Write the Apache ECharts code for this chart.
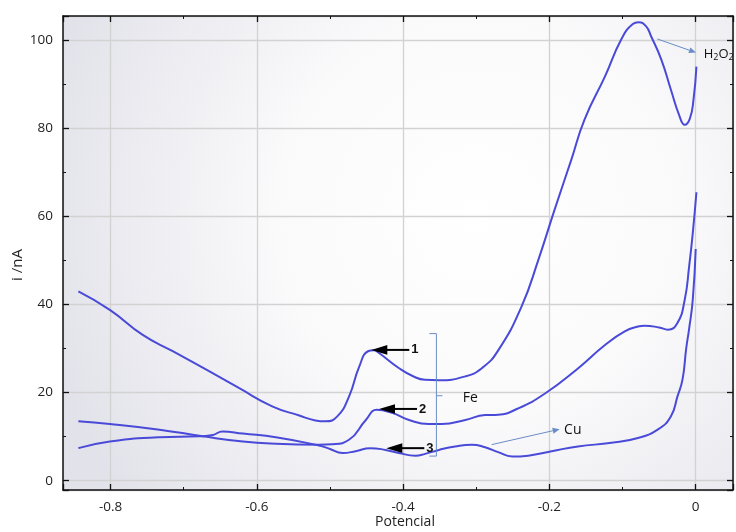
<!DOCTYPE html>
<html><head><meta charset="utf-8">
<script src="https://cdn.jsdelivr.net/npm/echarts@6/dist/echarts.min.js"></script>
<style>html,body{margin:0;padding:0;background:#fff}#c{width:736px;height:532px}</style>
</head><body><div id="c"></div>
<script>
// Curve 1 (top)
const pot1 = [-0.844,-0.801,-0.756,-0.715,-0.669,-0.624,-0.579,-0.542,-0.520,-0.506,-0.490,-0.474,-0.460,-0.448,-0.440,-0.433,-0.406,-0.385,-0.370,-0.351,-0.315,-0.292,-0.270,-0.238,-0.215,-0.193,-0.170,-0.152,-0.124,-0.102,-0.086,-0.078,-0.068,-0.061,-0.047,-0.034,-0.022,-0.015,-0.008,-0.003,0.001];
const cur1 = [43.0,38.8,33.1,29.4,25.2,21.0,16.9,14.8,13.7,13.5,14.6,19.1,25.9,29.4,29.6,29.0,25.6,23.6,22.9,22.8,23.7,25.6,29.6,39.6,50.2,61.5,72.9,82.0,91.8,100.1,103.7,104.1,103.2,100.9,95.6,88.8,82.7,80.8,82.2,86.5,94.0];
// Curve 2 (middle)
const pot2 = [-0.844,-0.801,-0.733,-0.674,-0.619,-0.574,-0.515,-0.497,-0.474,-0.451,-0.436,-0.415,-0.392,-0.365,-0.347,-0.315,-0.288,-0.270,-0.243,-0.206,-0.161,-0.124,-0.097,-0.079,-0.070,-0.050,-0.038,-0.025,-0.015,-0.009,-0.004,0.001];
const cur2 = [13.5,12.9,11.6,10.1,8.9,8.4,8.2,8.3,9.3,13.8,16.1,15.4,13.8,12.9,12.9,13.8,14.9,15.0,16.4,19.8,25.5,30.8,33.9,35.0,35.2,34.8,34.3,35.8,41.1,48.6,56.2,65.5];
// Curve 3 (bottom)
const pot3 = [-0.844,-0.801,-0.733,-0.678,-0.660,-0.647,-0.619,-0.574,-0.515,-0.500,-0.483,-0.465,-0.445,-0.424,-0.406,-0.383,-0.370,-0.351,-0.329,-0.306,-0.288,-0.270,-0.251,-0.229,-0.197,-0.161,-0.115,-0.079,-0.052,-0.034,-0.025,-0.018,-0.013,-0.009,-0.004,0.000];
const cur3 = [7.4,8.9,9.9,10.1,10.4,11.2,10.7,9.9,8.0,7.2,6.3,6.7,7.4,7.0,6.3,5.7,6.1,7.0,7.8,8.2,7.6,6.5,5.5,5.7,6.7,7.8,8.6,9.7,11.6,14.6,19.1,23.0,30.0,34.5,41.1,52.6];

// annotation anchors (data coords)
const peakArrows = [[-0.4435,29.7,'1'],[-0.433,16.3,'2'],[-0.423,7.4,'3']];
const bracket = {x:-0.3545, top:33.4, mid:19.3, bottom:5.6};
const labelFe = [-0.308,18.8];
const arrowCu = [[-0.279,8.2],[-0.186,11.7]];
const labelCu = [-0.168,11.6];
const arrowH2O2 = [[-0.0526,100.3],[0.0004,97.2]];
const labelH2O2 = [0.011,96.8];

const chart = echarts.init(document.getElementById('c'), null, {renderer:'canvas'});
const lineColor = '#4a4ad8';
const font = '"Open Sans", "DejaVu Sans", sans-serif';
const mk = (xs, ys) => xs.map((x,i)=>[x, ys[i]]);
const isStep = (v, s) => Math.abs(v/s - Math.round(v/s)) < 1e-6;

const axisCommon = {
  axisLine:{show:true, onZero:false, lineStyle:{color:'#111', width:1.5}},
  axisTick:{show:true, inside:true, length:6, lineStyle:{color:'#111', width:1.3}},
  minorTick:{show:true, splitNumber:2, length:3, lineStyle:{color:'#111', width:1}},
};

chart.setOption({
  animation:false,
  backgroundColor:'#ffffff',
  grid:{left:63, right:1, top:16, bottom:42, show:true, borderWidth:0,
    backgroundColor:{type:'radial', x:0.62, y:0.42, r:0.95, colorStops:[
      {offset:0, color:'#ffffff'},{offset:0.45, color:'#fafafb'},{offset:1, color:'#e2e2ea'}]}},
  xAxis:[
    Object.assign({type:'value', min:-0.865, max:0.051, position:'bottom',
      splitLine:{show:true, lineStyle:{color:'#d2d2d2', width:1.3}},
      axisLabel:{color:'#222', fontSize:13.5, fontFamily:font, margin:10,
        formatter:v=> isStep(v,0.2) ? (Math.abs(v)<1e-9?'0':v.toFixed(1)) : ''}}, axisCommon),
    Object.assign({type:'value', min:-0.865, max:0.051, position:'top',
      splitLine:{show:false}, axisLabel:{show:false}}, axisCommon)
  ],
  yAxis:[
    Object.assign({type:'value', min:-2.1, max:105.5, position:'left',
      splitLine:{show:true, lineStyle:{color:'#d2d2d2', width:1.3}},
      axisLabel:{color:'#222', fontSize:13.5, fontFamily:font, margin:10,
        formatter:v=> isStep(v,20) ? String(Math.round(v)) : ''}}, axisCommon),
    Object.assign({type:'value', min:-2.1, max:105.5, position:'right',
      splitLine:{show:false}, axisLabel:{show:false}}, axisCommon)
  ],
  series:[
    {type:'line', data:mk(pot1,cur1), showSymbol:false, smooth:0.5, lineStyle:{color:lineColor, width:2}},
    {type:'line', data:mk(pot2,cur2), showSymbol:false, smooth:0.5, lineStyle:{color:lineColor, width:2}},
    {type:'line', data:mk(pot3,cur3), showSymbol:false, smooth:0.5, lineStyle:{color:lineColor, width:2}}
  ]
});

const P = (x,y) => chart.convertToPixel({seriesIndex:0}, [x,y]);
const els = [];
// axis titles
els.push({type:'text', x:405, y:522, style:{text:'Potencial', font:'14px '+font, fill:'#222', align:'center', verticalAlign:'middle'}});
els.push({type:'text', x:18, y:265, rotation:Math.PI/2, style:{text:'i /nA', font:'15px '+font, fill:'#222', align:'center', verticalAlign:'middle'}});
// black peak arrows
peakArrows.forEach(([x,y,t])=>{
  const [tx,ty] = P(x,y);
  els.push({type:'polygon', shape:{points:[[tx,ty],[tx+16,ty-4.8],[tx+16,ty+4.8]]}, style:{fill:'#000'}, z:10});
  els.push({type:'line', shape:{x1:tx+14,y1:ty,x2:tx+38,y2:ty}, style:{stroke:'#000', lineWidth:2}, z:10});
  els.push({type:'text', x:tx+40, y:ty, style:{text:t, font:'bold 13px "Liberation Sans", Arial, sans-serif', fill:'#111', verticalAlign:'middle'}, z:10});
});
// bracket
const thin = '#6a8cc7';
(function(){
  const [bx,bt] = P(bracket.x, bracket.top);
  const [,bm] = P(bracket.x, bracket.mid);
  const [,bb] = P(bracket.x, bracket.bottom);
  els.push({type:'polyline', shape:{points:[[bx-7,bt],[bx,bt],[bx,bb],[bx-7,bb]]}, style:{stroke:thin, lineWidth:1, fill:null}, z:10});
  els.push({type:'line', shape:{x1:bx,y1:bm,x2:bx+6,y2:bm}, style:{stroke:thin, lineWidth:1}, z:10});
})();
const [fx,fy] = P(labelFe[0], labelFe[1]);
els.push({type:'text', x:fx, y:fy, style:{text:'Fe', font:'14px '+font, fill:'#111', align:'center', verticalAlign:'middle'}, z:10});
// thin arrows
function thinArrow(a,b){
  const [x1,y1] = P(a[0],a[1]); const [x2,y2] = P(b[0],b[1]);
  const ang = Math.atan2(y2-y1, x2-x1), L=7, W=3;
  const bxp = x2 - L*Math.cos(ang), byp = y2 - L*Math.sin(ang);
  const nx = -Math.sin(ang), ny = Math.cos(ang);
  els.push({type:'line', shape:{x1,y1,x2:bxp,y2:byp}, style:{stroke:thin, lineWidth:1}, z:10});
  els.push({type:'polygon', shape:{points:[[x2,y2],[bxp+nx*W,byp+ny*W],[bxp-nx*W,byp-ny*W]]}, style:{fill:thin}, z:10});
}
thinArrow(arrowCu[0], arrowCu[1]);
thinArrow(arrowH2O2[0], arrowH2O2[1]);
const [cx,cy] = P(labelCu[0], labelCu[1]);
els.push({type:'text', x:cx, y:cy, style:{text:'Cu', font:'14px '+font, fill:'#111', align:'center', verticalAlign:'middle'}, z:10});
const [hx,hy] = P(labelH2O2[0], labelH2O2[1]);
els.push({type:'text', x:hx, y:hy, style:{text:'H{s|2}O{s|2}', font:'13px '+font, fill:'#111', verticalAlign:'middle',
  rich:{s:{fontSize:9, fontFamily:font, fill:'#111', padding:[7,0,0,0]}}}, z:10});
chart.setOption({graphic:{elements:els}});
</script>
</body></html>
